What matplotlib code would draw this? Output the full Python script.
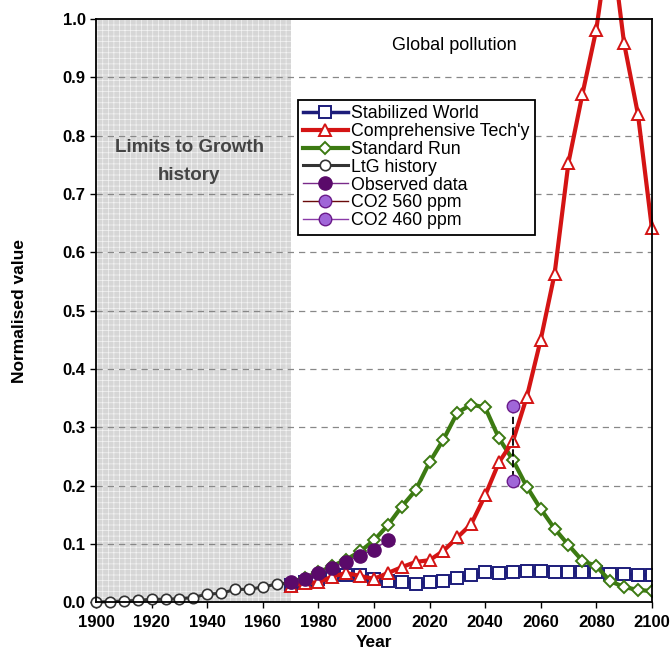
import numpy as np
import matplotlib
matplotlib.use("Agg")
import matplotlib.pyplot as plt

plt.rcParams['font.family'] = ['Liberation Sans', 'DejaVu Sans']
plt.rcParams['hatch.linewidth'] = 0.5

# model runs, every 5 years 1970-2100
years = np.arange(1970, 2101, 5)
stabilized = [0.030, 0.034, 0.040, 0.046, 0.047, 0.046, 0.040, 0.036, 0.034, 0.032,
              0.034, 0.036, 0.041, 0.047, 0.051, 0.050, 0.051, 0.053, 0.053, 0.052,
              0.051, 0.051, 0.051, 0.049, 0.049, 0.046, 0.047]
comp_tech = [0.028, 0.033, 0.034, 0.044, 0.050, 0.045, 0.040, 0.050, 0.060, 0.069,
             0.072, 0.088, 0.111, 0.134, 0.183, 0.240, 0.276, 0.352, 0.450, 0.563,
             0.754, 0.871, 0.982, 1.150, 0.959, 0.837, 0.642]
standard = [0.033, 0.042, 0.051, 0.062, 0.073, 0.087, 0.106, 0.132, 0.164, 0.192,
            0.240, 0.279, 0.325, 0.339, 0.334, 0.281, 0.244, 0.198, 0.160, 0.126,
            0.098, 0.071, 0.062, 0.036, 0.026, 0.021, 0.019]

# LtG history 1900-1970
hist_years = np.arange(1900, 1971, 5)
ltg_hist = [0.000, 0.001, 0.002, 0.003, 0.005, 0.005, 0.006, 0.008, 0.014, 0.015,
            0.022, 0.022, 0.026, 0.031, 0.033]

# observed data 1970-2005
obs_years = np.arange(1970, 2006, 5)
observed = [0.035, 0.040, 0.050, 0.059, 0.069, 0.080, 0.090, 0.107]

co2_year = 2050
co2_560 = 0.337
co2_460 = 0.207

fig = plt.figure(figsize=(6.72, 6.61), dpi=100)
ax = fig.add_axes([0.143, 0.089, 0.827, 0.882])

# shaded history region
ax.axvspan(1900, 1970, facecolor='#d6d6d6', edgecolor='#f4f4f4', hatch='+++', linewidth=0, zorder=0)

for yv in np.arange(0.1, 1.0, 0.1):
    ax.axhline(yv, color='#888888', linestyle=(0, (5, 4)), linewidth=0.9, zorder=1)

ax.plot(years, stabilized, color='#1c1c7a', linewidth=2.5, marker='s', markersize=8,
        markerfacecolor='white', markeredgecolor='#1c1c7a', markeredgewidth=1.4,
        label='Stabilized World', zorder=3)
ax.plot(years, standard, color='#3c7a12', linewidth=3, marker='D', markersize=6.5,
        markerfacecolor='white', markeredgecolor='#3c7a12', markeredgewidth=1.4,
        label='Standard Run', zorder=4)
ax.plot(years, comp_tech, color='#d41414', linewidth=3, marker='^', markersize=9,
        markerfacecolor='white', markeredgecolor='#d41414', markeredgewidth=1.4,
        label="Comprehensive Tech'y", zorder=5, clip_on=False)
ax.plot(hist_years, ltg_hist, color='#333333', linewidth=2.2, marker='o', markersize=7.5,
        markerfacecolor='white', markeredgecolor='#333333', markeredgewidth=1.2,
        label='LtG history', zorder=5, clip_on=False)
ax.plot(obs_years, observed, color='#7a2a8a', linewidth=1, marker='o', markersize=9.5,
        markerfacecolor='#5a0a6a', markeredgecolor='#5a0a6a',
        label='Observed data', zorder=6)
ax.plot([co2_year, co2_year], [co2_560, co2_460], color='black', linestyle=(0, (4, 2)),
        linewidth=1.3, zorder=6)
ax.plot([co2_year], [co2_560], color='#6a0a0a', linewidth=1, marker='o', markersize=9,
        markerfacecolor='#a066d8', markeredgecolor='#6a1a8a', label='CO2 560 ppm', zorder=7)
ax.plot([co2_year], [co2_460], color='#8a3aa8', linewidth=1, marker='o', markersize=9,
        markerfacecolor='#a066d8', markeredgecolor='#6a1a8a', label='CO2 460 ppm', zorder=7)

ax.set_xlim(1900, 2100)
ax.set_ylim(0, 1.0)
ax.set_xticks(np.arange(1900, 2101, 20))
ax.set_yticks(np.arange(0, 1.01, 0.1))
ax.set_yticklabels(['%.1f' % v for v in np.arange(0, 1.01, 0.1)])
ax.tick_params(axis='both', direction='out', length=4, width=1, labelsize=12)
ax.tick_params(axis='x', pad=5)
for lab in ax.get_xticklabels() + ax.get_yticklabels():
    lab.set_fontweight('bold')
for sp in ax.spines.values():
    sp.set_linewidth(1.3)
    sp.set_zorder(8)

ax.set_xlabel('Year', fontsize=12.5, fontweight='bold', labelpad=4)
ax.set_ylabel('Normalised value', fontsize=12.5, fontweight='bold', labelpad=26)

ax.text(1933.5, 0.78, 'Limits to Growth', ha='center', va='center', fontsize=13.5,
        fontweight='bold', color='#444444', zorder=2)
ax.text(1933.5, 0.731, 'history', ha='center', va='center', fontsize=13.5,
        fontweight='bold', color='#444444', zorder=2)
ax.text(2029, 0.954, 'Global pollution', ha='center', va='center', fontsize=13, zorder=2)

handles, labels = ax.get_legend_handles_labels()
order = ['Stabilized World', "Comprehensive Tech'y", 'Standard Run', 'LtG history',
         'Observed data', 'CO2 560 ppm', 'CO2 460 ppm']
hmap = dict(zip(labels, handles))
leg = ax.legend([hmap[k] for k in order], order, loc='upper left',
                bbox_to_anchor=(0.363, 0.862), fontsize=12.8, frameon=True,
                fancybox=False, edgecolor='black', framealpha=1, borderpad=0.3,
                labelspacing=0.05, handlelength=2.5, handletextpad=0.2,
                borderaxespad=0)
leg.get_frame().set_linewidth(1.3)
leg.set_zorder(9)

fig.savefig('out.png', dpi=100)
